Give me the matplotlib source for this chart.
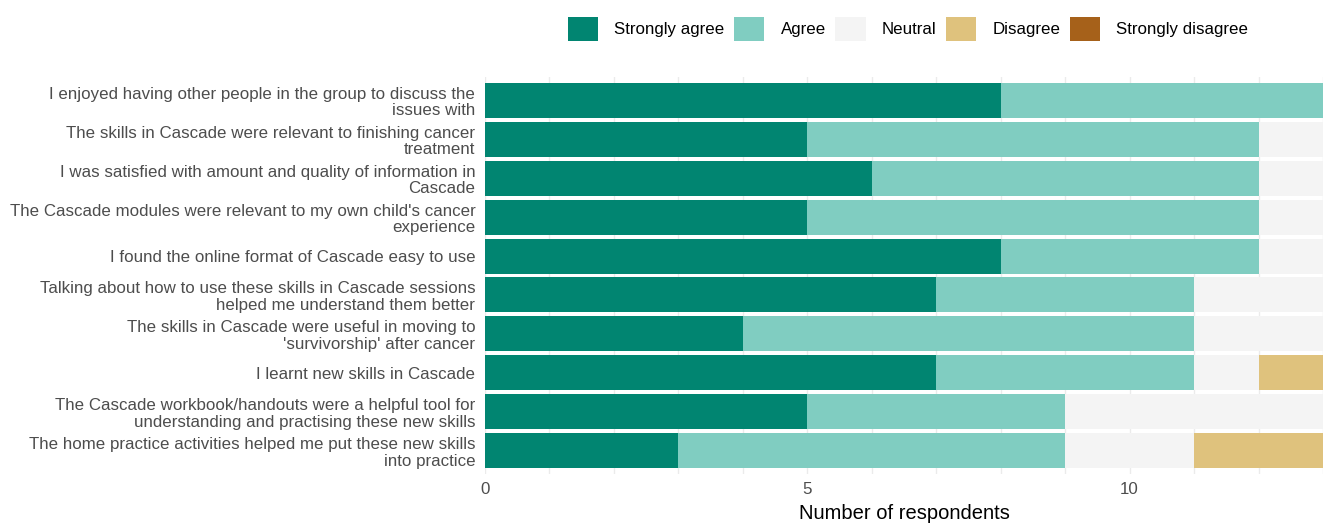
import numpy as np
import matplotlib.pyplot as plt
from matplotlib.patches import Patch

plt.rcParams['font.family'] = ['Liberation Sans', 'DejaVu Sans']

# statements, top to bottom as shown
statements = [
    "I enjoyed having other people in the group to discuss the\nissues with",
    "The skills in Cascade were relevant to finishing cancer\ntreatment",
    "I was satisfied with amount and quality of information in\nCascade",
    "The Cascade modules were relevant to my own child's cancer\nexperience",
    "I found the online format of Cascade easy to use",
    "Talking about how to use these skills in Cascade sessions\nhelped me understand them better",
    "The skills in Cascade were useful in moving to\n'survivorship' after cancer",
    "I learnt new skills in Cascade",
    "The Cascade workbook/handouts were a helpful tool for\nunderstanding and practising these new skills",
    "The home practice activities helped me put these new skills\ninto practice",
]

responses = ["Strongly agree", "Agree", "Neutral", "Disagree", "Strongly disagree"]
strongly_agree = [8, 5, 6, 5, 8, 7, 4, 7, 5, 3]
agree = [5, 7, 6, 7, 4, 4, 7, 4, 4, 6]
neutral = [0, 1, 1, 1, 1, 2, 2, 1, 4, 2]
disagree = [0, 0, 0, 0, 0, 0, 0, 1, 0, 2]
strongly_disagree = [0, 0, 0, 0, 0, 0, 0, 0, 0, 0]

colours = ["#018571", "#80cdc1", "#f4f4f4", "#dfc27d", "#a6611a"]

fig = plt.figure(figsize=(13.26, 5.25), dpi=100)
ax = fig.add_axes([485 / 1326, 1 - 474 / 525, (1323 - 485) / 1326, (474 - 77) / 525])

y = np.arange(len(statements))
left = np.zeros(len(statements))
for name, vals, col in zip(responses,
                           [strongly_agree, agree, neutral, disagree, strongly_disagree],
                           colours):
    vals = np.array(vals, dtype=float)
    ax.barh(y, vals, left=left, height=0.9, color=col, label=name, zorder=2)
    left += vals

ax.set_ylim(len(statements) - 0.4, -0.6)
ax.set_xlim(0, 13)

ax.set_yticks(y)
ax.set_yticklabels(statements, fontsize=12.2, color="#4d4d4d", linespacing=1.12)
for lab in ax.get_yticklabels():
    lab.set_multialignment("right")
ax.set_xticks([0, 5, 10])
ax.set_xticklabels(["0", "5", "10"], fontsize=12.2, color="#4d4d4d")
ax.set_xticks(np.arange(0, 14), minor=True)
ax.tick_params(axis="both", which="both", length=0)
ax.tick_params(axis="y", pad=7)
ax.tick_params(axis="x", pad=6)
ax.grid(axis="x", which="both", color="#ebebeb", linewidth=1.0, zorder=0)
ax.grid(axis="y", visible=False)
for s in ax.spines.values():
    s.set_visible(False)

ax.set_xlabel("Number of respondents", fontsize=14.5, color="black", labelpad=5)

handles = [Patch(facecolor=c, edgecolor="none", label=r) for c, r in zip(colours, responses)]
fig.legend(handles=handles, loc="center", bbox_to_anchor=(908 / 1326, 1 - 29 / 525),
           ncol=5, frameon=False, fontsize=12.2, handlelength=1.8, handleheight=1.8,
           handletextpad=0.95, columnspacing=0.55)

fig.savefig("out.png", dpi=100)
